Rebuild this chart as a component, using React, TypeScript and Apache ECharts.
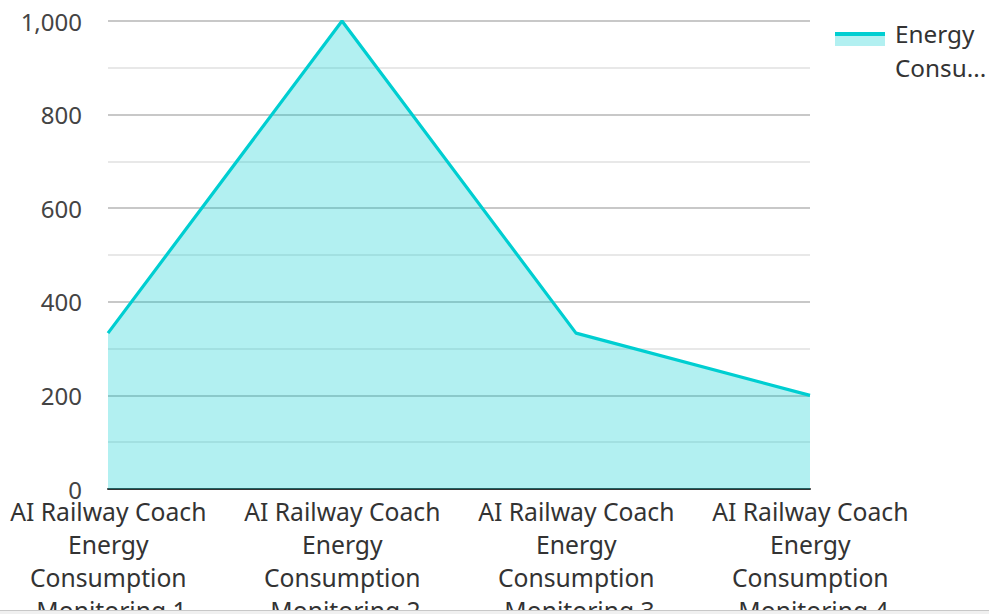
import React, { useEffect, useRef } from "react";
import * as echarts from "echarts";

const categories = [
  "AI Railway Coach Energy Consumption Monitoring 1",
  "AI Railway Coach Energy Consumption Monitoring 2",
  "AI Railway Coach Energy Consumption Monitoring 3",
  "AI Railway Coach Energy Consumption Monitoring 4",
];
const seriesName = "Energy Consumption";
const legendLabel = "Energy\nConsu...";
const energyValues = [333, 1000, 333, 200];
const yMin = 0;
const yMax = 1000;
const yInterval = 200;

const LINE = "#00ced1";
const FILL = "#b2f0f1";
const FONT = "Noto Sans";

export default function App() {
  const ref = useRef<HTMLDivElement>(null);
  useEffect(() => {
    if (!ref.current) return;
    const chart = echarts.init(ref.current, undefined, { renderer: "svg" });
    chart.setOption({
      animation: false,
      textStyle: { fontFamily: FONT },
      grid: {
        left: 108,
        top: 21,
        width: 702,
        height: 468,
        containLabel: false,
        outerBoundsMode: "none",
      },
      graphic: [
        {
          type: "rect",
          left: 835,
          top: 32,
          shape: { width: 50, height: 14 },
          style: { fill: FILL },
          z: 100,
        },
        {
          type: "rect",
          left: 835,
          top: 32,
          shape: { width: 50, height: 4 },
          style: { fill: LINE },
          z: 101,
        },
        {
          type: "text",
          x: 895,
          y: 16,
          style: {
            text: legendLabel,
            fill: "#333",
            font: `24.3px "${FONT}"`,
            lineHeight: 34,
            align: "left",
            verticalAlign: "top",
          },
          z: 101,
        },
      ],
      xAxis: {
        type: "category",
        data: categories,
        boundaryGap: false,
        axisLine: { show: true, lineStyle: { color: "#333", width: 2 } },
        axisTick: { show: false },
        splitLine: { show: false },
        axisLabel: {
          fontFamily: FONT,
          fontSize: 24.7,
          color: "#333",
          lineHeight: 33,
          width: 234,
          overflow: "break",
          margin: 6,
          padding: [0, 0, 0, 7],
          interval: 0,
        },
      },
      yAxis: {
        type: "value",
        min: yMin,
        max: yMax,
        interval: yInterval,
        axisLine: { show: false },
        axisTick: { show: false },
        axisLabel: {
          fontFamily: FONT,
          fontSize: 24,
          color: "#444",
          margin: 26,
        },
        splitLine: { show: true, lineStyle: { color: "#c8c8c8", width: 2 } },
        minorTick: { show: false, splitNumber: 2 },
        minorSplitLine: { show: true, lineStyle: { color: "#e8e8e8", width: 2 } },
      },
      series: [
        {
          name: seriesName,
          type: "line",
          data: energyValues,
          symbol: "none",
          lineStyle: { color: LINE, width: 3.2 },
          itemStyle: { color: LINE },
          areaStyle: { color: LINE, opacity: 0.3 },
        },
      ],
    });
    return () => chart.dispose();
  }, []);
  return (
    <div
      style={{
        position: "fixed",
        left: 0,
        top: 0,
        width: 989,
        height: 614,
        overflow: "hidden",
        background: "#fff",
      }}
    >
      <div ref={ref} style={{ width: 989, height: 660 }} />
      <div
        style={{
          position: "absolute",
          left: 0,
          top: 610,
          width: 989,
          height: 4,
          borderTop: "1px solid #c8c8c8",
          background: "#f0f0f0",
          boxSizing: "border-box",
        }}
      />
    </div>
  );
}
